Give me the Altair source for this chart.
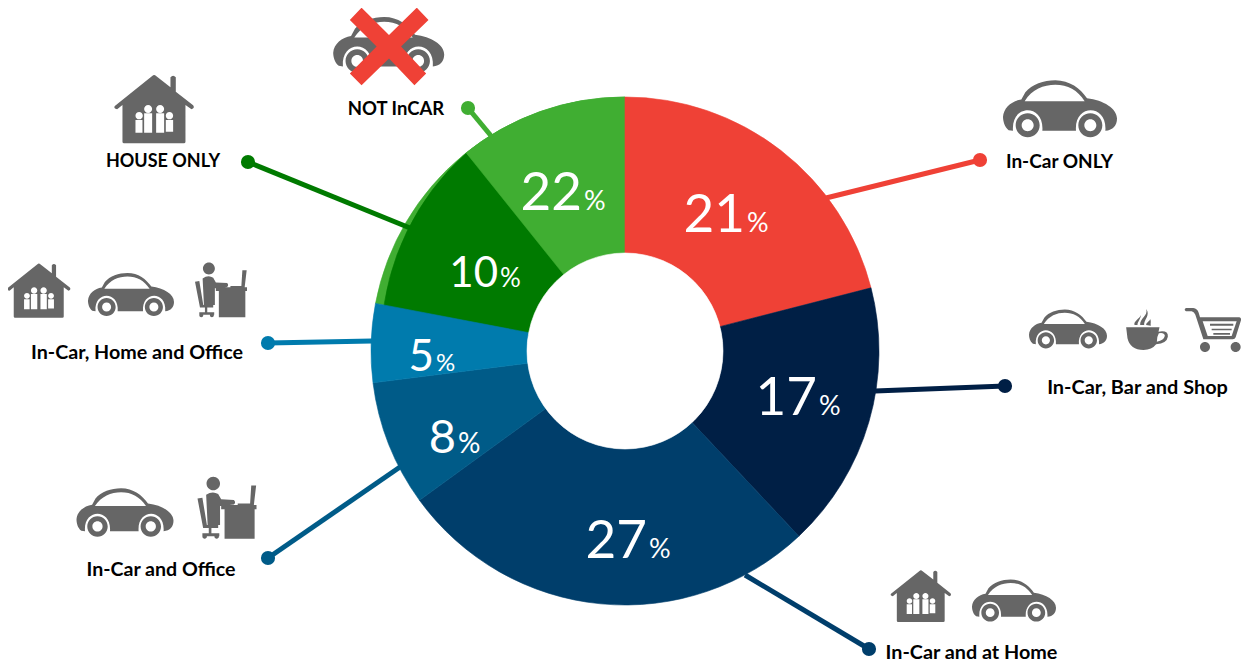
import math
import altair as alt
import pandas as pd

# ---- chart values ----
segments = ["In-Car ONLY", "In-Car, Bar and Shop", "In-Car and at Home", "In-Car and Office",
            "In-Car, Home and Office", "NOT InCAR"]
shares = [21, 17, 27, 8, 5, 22]
seg_colors = ["#EF4136", "#001F45", "#003E6B", "#005B88", "#007BAD", "#40AE32"]
house_only_share = 10
house_only_color = "#007A00"
label_texts = ["In-Car ONLY", "In-Car, Bar and Shop", "In-Car and at Home", "In-Car and Office",
               "In-Car, Home and Office", "HOUSE ONLY", "NOT InCAR"]
number_texts = ["21", "17", "27", "8", "5", "10", "22"]

GREY = "#666666"
CX, CY, R_OUT, R_IN = 625, 351, 254, 98


# ---- icon geometry helpers (shape outlines only) ----
def norm(cmds, cx, cy, half):
    out = []
    for c in cmds:
        if isinstance(c, str):
            out.append(c)
        else:
            out.append(f"{(c[0]-cx)/half:.4f} {(c[1]-cy)/half:.4f}")
    return " ".join(out)


def circle(cx, cy, r, cw=True):
    k = 0.5523 * r
    s = 1 if cw else -1
    return ["M", (cx, cy - r),
            "C", (cx + s * k, cy - r), (cx + s * r, cy - k), (cx + s * r, cy),
            "C", (cx + s * r, cy + k), (cx + s * k, cy + r), (cx, cy + r),
            "C", (cx - s * k, cy + r), (cx - s * r, cy + k), (cx - s * r, cy),
            "C", (cx - s * r, cy - k), (cx - s * k, cy - r), (cx, cy - r), "Z"]


def rect(x0, y0, x1, y1, cw=True):
    if cw:
        return ["M", (x0, y0), "L", (x1, y0), "L", (x1, y1), "L", (x0, y1), "Z"]
    return ["M", (x0, y0), "L", (x0, y1), "L", (x1, y1), "L", (x1, y0), "Z"]


car = (["M", (55, 180), "C", (42, 170), (38, 152), (38, 140), "C", (40, 112), (65, 92), (93, 88),
        "L", (105, 66), "C", (125, 42), (160, 30), (195, 30), "C", (238, 30), (270, 55), (290, 84),
        "C", (340, 90), (380, 115), (380, 145), "C", (380, 165), (368, 180), (345, 182),
        "C", (352, 100), (250, 100), (257, 182), "L", (156, 182),
        "C", (163, 100), (61, 100), (68, 182), "Z"]
       + ["M", (103, 93), "L", (283, 93), "C", (262, 60), (232, 44), (195, 44),
          "C", (160, 44), (125, 58), (103, 93), "Z"]
       + circle(112, 165, 36) + circle(112, 165, 18, False)
       + circle(300, 165, 36) + circle(300, 165, 18, False))
CAR = norm(car, 209, 117.5, 171)

house = (["M", (345, 318), "L", (460, 226), "Q", (463, 224), (466, 226), "L", (512, 262), "L", (512, 232),
          "Q", (520, 222), (528, 232), "L", (528, 275), "L", (580, 316), "Q", (586, 325), (575, 328),
          "L", (557, 315), "L", (557, 425), "Q", (557, 430), (552, 430), "L", (373, 430),
          "Q", (368, 430), (368, 425), "L", (368, 315), "L", (352, 328), "Q", (340, 325), (345, 318), "Z"]
         + circle(418, 347, 11, False) + circle(445, 327, 12, False)
         + circle(481, 327, 12, False) + circle(509, 347, 11, False)
         + rect(407, 360, 428, 398, False) + rect(433, 340, 457, 398, False)
         + rect(469, 340, 493, 398, False) + rect(498, 360, 520, 395, False))
HOUSE = norm(house, 463.5, 327, 118.5)

office = (circle(627, 40, 18)
          + ["M", (608, 70), "Q", (625, 58), (640, 68), "L", (648, 82), "L", (682, 84), "Q", (688, 90), (682, 96),
             "L", (645, 100), "L", (645, 150), "L", (612, 150), "Z"]
          + ["M", (585, 80), "L", (598, 78), "L", (610, 150), "L", (640, 150), "L", (640, 158), "L", (600, 158), "Z"]
          + rect(615, 158, 622, 175) + rect(598, 172, 643, 180)
          + circle(604, 181, 6) + circle(636, 181, 6)
          + rect(648, 97, 742, 108) + rect(657, 105, 737, 187)
          + ["M", (728, 45), "L", (741, 45), "L", (735, 97), "L", (692, 97), "L", (692, 93), "L", (725, 93), "Z"])
OFFICE = norm(office, 663.5, 105, 78.5)

cup = (["M", (318, 97), "L", (418, 97), "L", (415, 110), "Q", (445, 105), (443, 125), "Q", (440, 145), (408, 148),
        "Q", (395, 165), (370, 165), "Q", (330, 165), (322, 130), "Z"]
       + ["M", (416, 115), "Q", (410, 125), (410, 140), "Q", (432, 135), (434, 122), "Q", (432, 112), (416, 115), "Z"]
       + ["M", (343, 90), "C", (340, 78), (358, 72), (362, 60), "C", (362, 72), (352, 80), (352, 90), "Z"]
       + ["M", (360, 90), "C", (358, 70), (385, 62), (378, 42), "C", (392, 60), (370, 75), (372, 90), "Z"]
       + ["M", (378, 90), "C", (378, 82), (388, 80), (390, 72), "C", (394, 80), (390, 85), (392, 92), "Z"])
CUP = norm(cup, 380.5, 105, 62.5)

cart = (["M", (508, 38), "L", (530, 38), "Q", (542, 40), (546, 52), "L", (550, 66), "L", (668, 66),
         "Q", (675, 68), (673, 75), "L", (657, 126), "Q", (655, 132), (648, 132), "L", (560, 132),
         "L", (536, 58), "Q", (533, 50), (525, 48), "L", (508, 48), "Q", (500, 43), (508, 38), "Z"]
        + ["M", (558, 78), "L", (573, 122), "L", (645, 122), "L", (660, 78), "Z"]
        + rect(580, 85, 650, 91) + rect(585, 100, 645, 105) + rect(590, 113, 640, 118)
        + circle(565, 155, 15) + circle(657, 155, 15))
CART = norm(cart, 587.5, 104, 84.5)

cross = ["M", (1050, 55), "L", (1085, 18), "L", (1167, 100), "L", (1250, 18), "L", (1285, 55), "L", (1203, 134),
         "L", (1278, 215), "L", (1243, 250), "L", (1167, 170), "L", (1085, 250), "L", (1050, 215), "L", (1130, 134), "Z"]
CROSS = norm(cross, 1167, 134, 118)

# ---- tables ----
X = alt.X("x:Q", scale=alt.Scale(domain=[8, 1241], nice=False, zero=False), axis=None)
Y = alt.Y("y:Q", scale=alt.Scale(domain=[8, 664], nice=False, zero=False, reverse=True), axis=None)
THETA = alt.Theta("a:Q", scale=alt.Scale(domain=[0, 100], range=[0, 2 * math.pi]))

rows, acc = [], 0
for name, v, col in zip(segments, shares, seg_colors):
    rows.append(dict(seg=name, a=acc, b=acc + v, x=CX, y=CY, c=col))
    acc += v
green = rows[-1]
arcs_rest = rows[:-1]
split = 89.25  # end of the dark-green slice


def arc_layer(recs, r_out, r_in=0):
    return alt.Chart(pd.DataFrame(recs)).mark_arc(radius=r_out, radius2=r_in, strokeWidth=0.6).encode(
        x=X, y=Y, theta=THETA, theta2="b:Q",
        color=alt.Color("c:N", scale=None), stroke=alt.Stroke("c:N", scale=None))


layers = [
    arc_layer([green], R_OUT, R_IN),
    arc_layer([dict(a=split - house_only_share - 3.25, b=88.4, x=635.3, y=342.8, c=house_only_color)], R_OUT),
    arc_layer([dict(a=split, b=100, x=CX, y=CY, c=seg_colors[-1])], R_OUT, R_IN),
    arc_layer(arcs_rest, R_OUT, R_IN),
    arc_layer([dict(a=0, b=100, x=CX, y=CY, c="#FFFFFF")], R_IN),
]

# leader lines and end dots
leaders = pd.DataFrame({
    "x": [980, 1005, 869, 268, 268, 248, 468],
    "y": [160, 386, 649, 558, 343, 162, 108],
    "x2": [826, 875, 745, 400, 372, 410, 492],
    "y2": [198, 391, 575, 467, 341, 228, 137],
    "c": ["#EF4136", "#001F45", "#003E6B", "#005B88", "#007BAD", house_only_color, "#40AE32"],
})
layers.append(alt.Chart(leaders).mark_rule(strokeWidth=5).encode(
    x=X, y=Y, x2="x2:Q", y2="y2:Q", color=alt.Color("c:N", scale=None)))
layers.append(alt.Chart(leaders).mark_point(filled=True, opacity=1, size=200, strokeWidth=0, shape="circle").encode(
    x=X, y=Y, color=alt.Color("c:N", scale=None)))

# icons
placements = [
    (CAR, [(1060, 109.3, 114), (388.7, 45.5, 111), (131, 295, 86), (1068, 329.5, 78), (125, 513, 97), (1014, 601, 84)]),
    (HOUSE, [(154.3, 109, 79), (39, 290.5, 62.7), (921, 596, 60)]),
    (OFFICE, [(221, 290, 52), (227, 508, 59)]),
    (CUP, [(1147, 330, 41.7)]),
    (CART, [(1212.5, 330, 56.3)]),
]
for path, items in placements:
    df = pd.DataFrame([dict(x=i[0], y=i[1], s=i[2] ** 2) for i in items])
    layers.append(alt.Chart(df).mark_point(shape=path, filled=True, opacity=1, strokeWidth=0, color=GREY).encode(
        x=X, y=Y, size=alt.Size("s:Q", scale=None)))
layers.append(alt.Chart(pd.DataFrame([dict(x=389, y=46.5, s=79 ** 2)])).mark_point(
    shape=CROSS, filled=True, opacity=1, strokeWidth=0, color="#EF4136").encode(
    x=X, y=Y, size=alt.Size("s:Q", scale=None)))

# outer labels
labels = pd.DataFrame({
    "t": label_texts,
    "x": [1059.5, 1137.5, 971.5, 161, 137, 163, 396],
    "y": [162, 388, 653, 570, 353, 162, 109],
    "fs": [19, 19.9, 19.8, 19.6, 19.7, 18, 18.5],
})
layers.append(alt.Chart(labels).mark_text(font="Lato", fontWeight="bold", color="#000000",
                                          align="center", baseline="middle").encode(
    x=X, y=Y, text="t:N", size=alt.Size("fs:Q", scale=None)))

# inner numbers
nums = pd.DataFrame({
    "t": number_texts,
    "x": [745, 817, 647, 456, 434, 498, 582],
    "y": [232, 415, 558, 453, 371, 287, 210],
    "fs": [53, 53, 53, 47, 44, 42, 53],
})
layers.append(alt.Chart(nums).mark_text(font="Lato", color="#FFFFFF", align="right", baseline="alphabetic").encode(
    x=X, y=Y, text="t:N", size=alt.Size("fs:Q", scale=None)))
pct = nums.assign(x=nums.x + 2, fs=[27, 27, 27, 28, 24, 26, 27], t="%")
layers.append(alt.Chart(pct).mark_text(font="Lato", color="#FFFFFF", align="left", baseline="alphabetic").encode(
    x=X, y=Y, text="t:N", size=alt.Size("fs:Q", scale=None)))

chart = alt.layer(*layers).properties(
    width=1233, height=656, padding=0, autosize=alt.AutoSizeParams(type="none")
).configure_view(stroke=None).resolve_scale(color="independent", size="independent")

chart.save("out.html", embed_options={"renderer": "svg", "actions": False})
